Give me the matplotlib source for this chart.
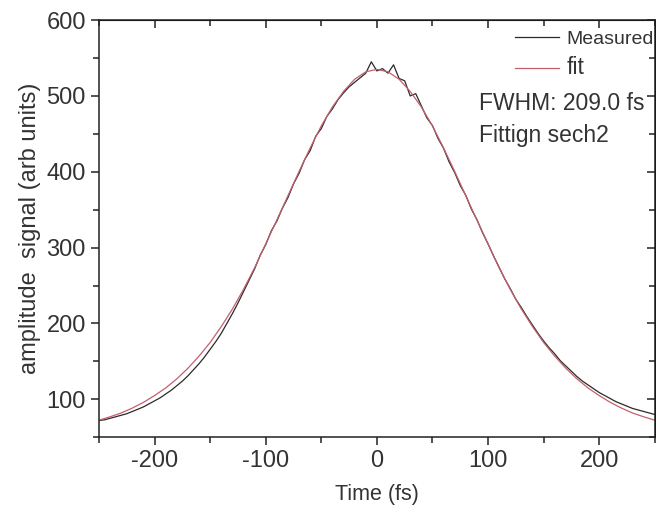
import numpy as np
import matplotlib.pyplot as plt
from matplotlib.ticker import MultipleLocator

plt.rcParams['font.family'] = ['Liberation Sans', 'DejaVu Sans']
plt.rcParams['axes.unicode_minus'] = False

# fit curve, every 10 fs (symmetric about 0)
t_fit = np.arange(-250, 251, 10)
fit_half = [535.0, 531.8, 522.0, 506.0, 485.5, 460.5, 431.5, 400.5, 368.5, 336.5,
            305.0, 273.5, 245.0, 219.0, 196.0, 175.0, 157.0, 141.0, 127.0, 115.0,
            105.0, 96.0, 88.5, 82.0, 77.0, 72.5]
fit_vals = np.array(fit_half[:0:-1] + fit_half)

# measured trace, read every 5 fs
t_meas = np.arange(-250, 251, 5)
meas_vals = np.array([
    72, 73, 75, 77, 79, 81, 84, 87, 90, 94,
    98, 102, 107, 112, 118, 124, 131, 139, 147, 156,
    166, 176, 187, 200, 213, 227, 242, 257, 272, 290,
    304, 322, 335, 352, 366, 384, 398, 416, 428, 447,
    457, 473, 483, 495, 504, 512, 518, 524, 530, 545,
    533, 536, 530, 541, 523, 520, 500, 503, 487, 471,
    461, 444, 431, 413, 399, 382, 369, 351, 337, 320,
    305, 289, 274, 259, 246, 232, 221, 209, 198, 187,
    177, 168, 160, 151, 144, 137, 130, 124, 119, 114,
    109, 105, 101, 97, 94, 91, 88, 86, 84, 82, 80])

fig = plt.figure(figsize=(6.56, 5.15), dpi=100)
ax = fig.add_axes([0.151, 0.151, 0.847, 0.810])

ax.plot(t_meas, meas_vals, color='#2a2a2a', lw=0.9, label='Measured')
ax.plot(t_fit, fit_vals, color='#c4606e', lw=0.9, label='fit')

ax.set_xlim(-250, 250)
ax.set_ylim(50, 600)
ax.xaxis.set_major_locator(MultipleLocator(100))
ax.xaxis.set_minor_locator(MultipleLocator(50))
ax.yaxis.set_major_locator(MultipleLocator(100))
ax.yaxis.set_minor_locator(MultipleLocator(50))
ax.set_yticks([100, 200, 300, 400, 500, 600])

for s in ax.spines.values():
    s.set_linewidth(1.1)
    s.set_color('#222222')
ax.tick_params(which='both', colors='#222222', labelcolor='#333333', width=1.1)
ax.tick_params(which='major', length=6, labelsize=17)
ax.tick_params(which='minor', length=4)

# inward ticks on the top and right edges
top = ax.secondary_xaxis('top')
top.xaxis.set_major_locator(MultipleLocator(100))
top.xaxis.set_minor_locator(MultipleLocator(50))
top.tick_params(which='both', direction='in', labeltop=False, width=1.1, colors='#222222')
top.tick_params(which='major', length=6)
top.tick_params(which='minor', length=4)
right = ax.secondary_yaxis('right')
right.yaxis.set_major_locator(MultipleLocator(100))
right.yaxis.set_minor_locator(MultipleLocator(50))
right.tick_params(which='both', direction='in', labelright=False, width=1.1, colors='#222222')
right.tick_params(which='major', length=6)
right.tick_params(which='minor', length=4)

ax.set_xlabel('Time (fs)', fontsize=15.5, color='#333333', labelpad=8)
ax.set_ylabel('amplitude  signal (arb units)', fontsize=17, color='#333333', labelpad=4)

leg = ax.legend(loc='upper right', bbox_to_anchor=(1.012, 0.995), frameon=False,
                handlelength=2.3, handletextpad=0.35, borderaxespad=0.0,
                labelspacing=0.45, fontsize=14)
leg.get_texts()[1].set_fontsize(16.5)
for txt in leg.get_texts():
    txt.set_color('#333333')

ax.text(0.683, 0.800, 'FWHM: 209.0 fs', transform=ax.transAxes, fontsize=16.5,
        color='#333333', va='center')
ax.text(0.683, 0.724, 'Fittign sech2', transform=ax.transAxes, fontsize=16.5,
        color='#333333', va='center')

fig.savefig('out.png', dpi=100)
